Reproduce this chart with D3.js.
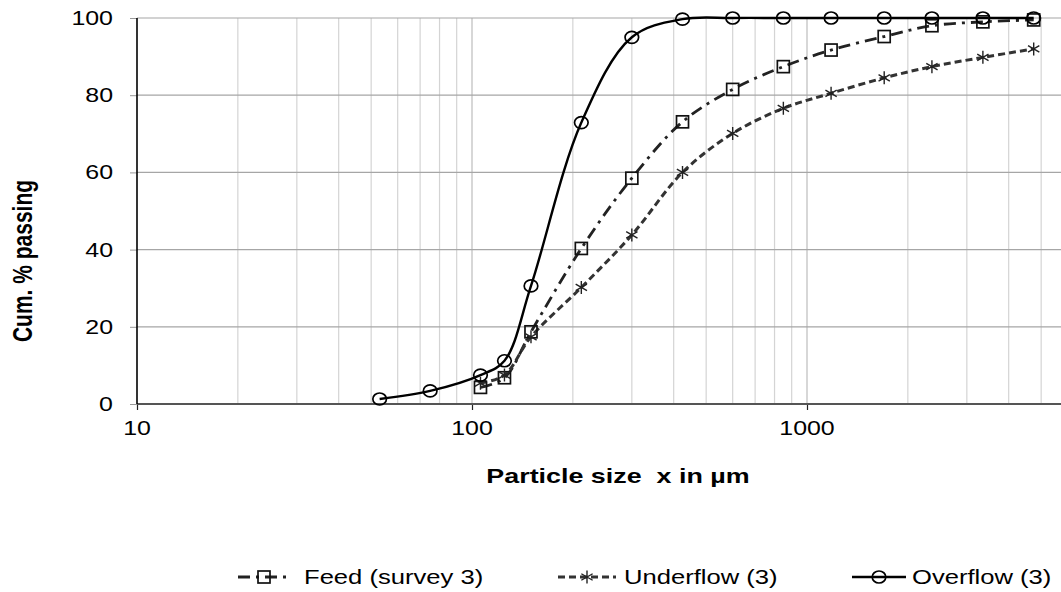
<!DOCTYPE html>
<html>
<head>
<meta charset="utf-8">
<script src="https://cdn.jsdelivr.net/npm/d3@7"></script>
<style>
  html, body { margin: 0; padding: 0; background: #fff; }
  svg { display: block; }
  text { font-family: "Liberation Sans", Arial, sans-serif; fill: #000; white-space: pre; }
</style>
</head>
<body>
<svg id="chart" width="1061" height="592"></svg>
<script>
// Sieve sizes (µm) and cumulative % passing for survey 3
const overflowSizes = [53, 75, 106, 125, 150, 212, 300, 425, 600, 850, 1180, 1700, 2360, 3350, 4750];
const overflowPassing = [1.3, 3.4, 7.5, 11.2, 30.6, 72.9, 95.0, 99.7, 100, 100, 100, 100, 100, 100, 100];

const feedSizes = [106, 125, 150, 212, 300, 425, 600, 850, 1180, 1700, 2360, 3350, 4750];
const feedPassing = [4.3, 6.8, 18.7, 40.3, 58.5, 73.1, 81.5, 87.4, 91.7, 95.2, 98.0, 99.0, 99.5];

const underflowSizes = [106, 125, 150, 212, 300, 425, 600, 850, 1180, 1700, 2360, 3350, 4750];
const underflowPassing = [5.4, 7.5, 17.4, 30.2, 43.8, 60.0, 70.1, 76.6, 80.5, 84.5, 87.4, 89.8, 92.0];

const xTickValues = [10, 100, 1000];
const yTickValues = [0, 20, 40, 60, 80, 100];
const legendLabels = ["Feed (survey 3)", "Underflow (3)", "Overflow (3)"];

const svg = d3.select("#chart");
const SX = 1.28; // horizontal text stretch

const x = d3.scaleLog().domain([10, 10000]).range([137, 1142]);
const y = d3.scaleLinear().domain([0, 100]).range([404, 18]);

// vertical grid: every 1..9 multiple in each decade
const gridX = [];
for (let dec = 10; dec <= 1000; dec *= 10) {
  for (let m = 1; m <= 9; m++) gridX.push(dec * m);
}
gridX.push(10000);

const grid = svg.append("g");
grid.selectAll("line.vx").data(gridX.filter(v => v > 10)).join("line")
  .attr("x1", d => x(d)).attr("x2", d => x(d))
  .attr("y1", y(100)).attr("y2", y(0))
  .attr("stroke", d => (d === 100 || d === 1000) ? "#bdbdbd" : "#d4d4d4")
  .attr("stroke-width", 1.2);
grid.selectAll("line.hy").data(yTickValues.filter(v => v > 0)).join("line")
  .attr("x1", x(10)).attr("x2", 1061)
  .attr("y1", d => y(d)).attr("y2", d => y(d))
  .attr("stroke", "#a6a6a6").attr("stroke-width", 1.2);

// axes
const xAxis = d3.axisBottom(x).tickValues(xTickValues).tickSize(6).tickFormat(d3.format("d"));
const gx = svg.append("g").attr("transform", `translate(0,${y(0)})`).call(xAxis);
gx.select(".domain").remove();
gx.selectAll(".tick line").attr("stroke", "#222").attr("stroke-width", 1.2);
gx.selectAll(".tick text").remove();
svg.append("line").attr("x1", x(10)).attr("x2", 1061).attr("y1", y(0)).attr("y2", y(0))
  .attr("stroke", "#555").attr("stroke-width", 2);

const yAxis = d3.axisLeft(y).tickValues(yTickValues).tickSize(7);
const gy = svg.append("g").attr("transform", `translate(${x(10)},0)`).call(yAxis);
gy.select(".domain").remove();
gy.selectAll(".tick line").attr("stroke", "#999").attr("stroke-width", 1);
gy.selectAll(".tick text").remove();
svg.append("line").attr("x1", x(10)).attr("x2", x(10)).attr("y1", y(100)).attr("y2", y(0))
  .attr("stroke", "#000").attr("stroke-width", 1.6);

// tick labels (stretched horizontally)
svg.append("g").selectAll("text").data(yTickValues).join("text")
  .attr("transform", d => `translate(113,${y(d) + 7}) scale(${SX},1)`)
  .attr("text-anchor", "end").attr("font-size", 19.5)
  .text(d => d);
svg.append("g").selectAll("text").data(xTickValues).join("text")
  .attr("transform", d => `translate(${x(d)},435) scale(${SX},1)`)
  .attr("text-anchor", "middle").attr("font-size", 19.5)
  .text(d => d);

// axis titles
svg.append("text")
  .attr("transform", `translate(618,483) scale(${SX},1)`)
  .attr("text-anchor", "middle").attr("font-size", 21).attr("font-weight", "bold")
  .text("Particle size  x in µm");
svg.append("text")
  .attr("transform", `translate(32,261) scale(${SX},1) rotate(-90)`)
  .attr("text-anchor", "middle").attr("font-size", 21).attr("font-weight", "bold")
  .text("Cum. % passing");

// series
const styles = {
  feed: { dash: "12,6,3,6", width: 2.8, color: "#222" },
  under: { dash: "7,4", width: 3, color: "#333" },
  over: { dash: null, width: 2.4, color: "#000" }
};

const line = d3.line().x(d => x(d[0])).y(d => y(d[1])).curve(d3.curveCatmullRom.alpha(0.5));
const plot = svg.append("g");

function drawSeries(sizes, vals, st) {
  plot.append("path").datum(d3.zip(sizes, vals))
    .attr("d", line).attr("fill", "none")
    .attr("stroke", st.color).attr("stroke-width", st.width)
    .attr("stroke-dasharray", st.dash);
}
drawSeries(feedSizes, feedPassing, styles.feed);
drawSeries(underflowSizes, underflowPassing, styles.under);
drawSeries(overflowSizes, overflowPassing, styles.over);

function square(g, cx, cy) {
  g.append("rect").attr("x", cx - 6).attr("y", cy - 6).attr("width", 12).attr("height", 12)
    .attr("fill", "none").attr("stroke", "#111").attr("stroke-width", 1.7);
}
function star(g, cx, cy) {
  const r = 6.5;
  const p = `M${cx},${cy - r}L${cx},${cy + r}` +
    `M${cx - r * 0.87},${cy - r * 0.5}L${cx + r * 0.87},${cy + r * 0.5}` +
    `M${cx - r * 0.87},${cy + r * 0.5}L${cx + r * 0.87},${cy - r * 0.5}`;
  g.append("path").attr("d", p).attr("stroke", "#222").attr("stroke-width", 1.4).attr("fill", "none");
}
function circle(g, cx, cy) {
  g.append("ellipse").attr("cx", cx).attr("cy", cy).attr("rx", 6.8).attr("ry", 6)
    .attr("fill", "none").attr("stroke", "#000").attr("stroke-width", 1.7);
}

const mk = svg.append("g");
d3.zip(feedSizes, feedPassing).forEach(d => square(mk, x(d[0]), y(d[1])));
d3.zip(underflowSizes, underflowPassing).forEach(d => star(mk, x(d[0]), y(d[1])));
d3.zip(overflowSizes, overflowPassing).forEach(d => circle(mk, x(d[0]), y(d[1])));

// legend
const legY = 577;
const legend = svg.append("g");
const items = [
  { x0: 238, x1: 290, st: styles.feed, marker: square, tx: 304 },
  { x0: 558, x1: 616, st: styles.under, marker: star, tx: 624 },
  { x0: 852, x1: 906, st: styles.over, marker: circle, tx: 912 }
];
items.forEach((it, i) => {
  legend.append("line").attr("x1", it.x0).attr("x2", it.x1).attr("y1", legY).attr("y2", legY)
    .attr("stroke", it.st.color).attr("stroke-width", it.st.width)
    .attr("stroke-dasharray", it.st.dash);
  it.marker(legend, (it.x0 + it.x1) / 2, legY);
  legend.append("text")
    .attr("transform", `translate(${it.tx},${legY + 7}) scale(${SX},1)`)
    .attr("font-size", 20).text(legendLabels[i]);
});
</script>
</body>
</html>
